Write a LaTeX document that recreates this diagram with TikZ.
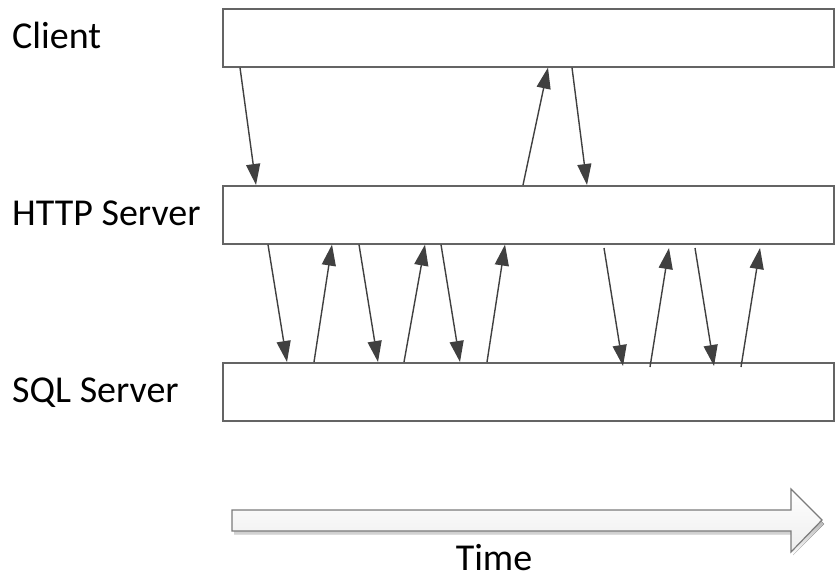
\documentclass[tikz,border=0pt]{standalone}
\usepackage{fontspec}
\setmainfont{Carlito}
\usetikzlibrary{arrows.meta,calc}
\definecolor{barline}{HTML}{646464}
\definecolor{msgline}{HTML}{404040}
\definecolor{shade}{HTML}{E8E8E8}
\tikzset{
  lane/.style={draw=barline, line width=1.6pt, fill=white, minimum width=611pt,
    minimum height=58pt, anchor=north west, inner sep=0pt},
  lanelabel/.style={anchor=base west, font=\fontsize{38}{42}\selectfont, inner sep=0pt},
  msg/.style={draw=msgline, line width=1.4pt,
    -{Triangle[length=21pt,width=14pt]}},
}
\begin{document}
\begin{tikzpicture}[x=1pt,y=-1pt]
\useasboundingbox (0,0) rectangle (835,582);
\fill[white] (0,0) rectangle (835,582);

% soft shadows behind the three lanes
\foreach \t in {8,185,362}
  \fill[shade] (224,\t+3) rectangle (835,\t+61);

% lanes
\node[lane] (client) at (222,8) {};
\node[lane] (http)   at (222,185) {};
\node[lane] (sql)    at (222,362) {};

% lane titles
\node[lanelabel] (lclient) at (12,48)  {Client};
\node[lanelabel] (lhttp)   at (12,225) {HTTP Server};
\node[lanelabel] (lsql)    at (12,402) {SQL Server};

% Client <-> HTTP server
\draw[msg] (240,0 |- client.south) -- (256,0 |- http.north);
\draw[msg] (523,0 |- http.north)   -- (548,0 |- client.south);
\draw[msg] (572,0 |- client.south) -- (587,0 |- http.north);

% HTTP server <-> SQL server, first burst
\draw[msg] (268,0 |- http.south) -- (287,0 |- sql.north);
\draw[msg] (314,0 |- sql.north)  -- (332,0 |- http.south);
\draw[msg] (359,0 |- http.south) -- (378,0 |- sql.north);
\draw[msg] (404,0 |- sql.north)  -- (425,0 |- http.south);
\draw[msg] (441,0 |- http.south) -- (460,0 |- sql.north);
\draw[msg] (487,0 |- sql.north)  -- (505,0 |- http.south);

% second burst
\draw[msg] (604,248) -- (623,366);
\draw[msg] (650,367) -- (669,248);
\draw[msg] (695,248) -- (714,366);
\draw[msg] (741,367) -- (760,248);

% time arrow
\fill[shade] (234,534) -- (234,513) -- (793,513) -- (793,493) -- (824,524)
  -- (793,555) -- (793,534) -- cycle;
\path[draw=barline!85, line width=1.2pt, top color=white, bottom color=black!7,
  line join=miter]
  (232,510) coordinate (tstart) -- (791,510) -- (791,489) -- (822,520) coordinate (tend)
  -- (791,552) -- (791,531) -- (232,531) -- cycle;
\node[anchor=base, font=\fontsize{38}{42}\selectfont, inner sep=0pt] (time)
  at (494,570) {Time};
\end{tikzpicture}
\end{document}
